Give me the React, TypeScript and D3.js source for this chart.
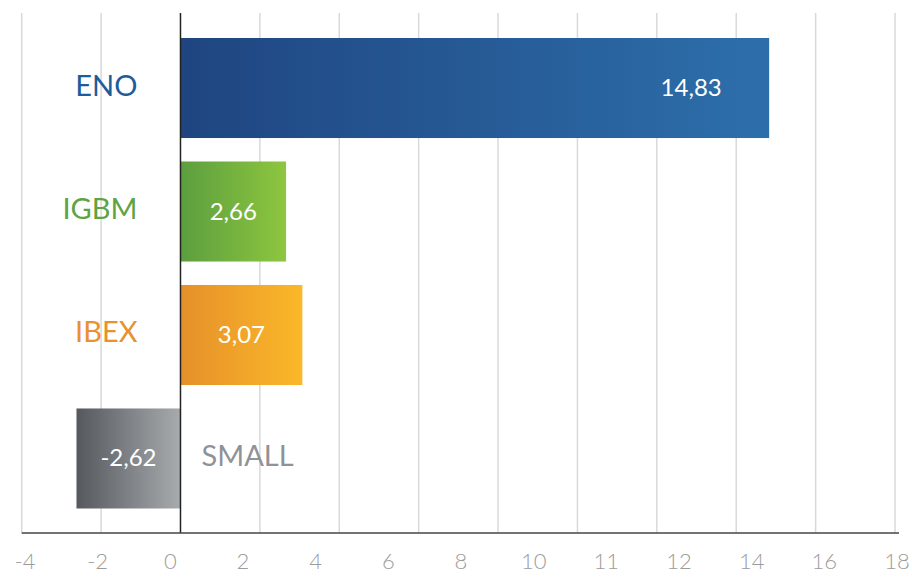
import { useEffect, useRef } from 'react'
import * as d3 from 'd3'

const categories = ['ENO', 'IGBM', 'IBEX', 'SMALL']
const values = [14.83, 2.66, 3.07, -2.62]
const tickLabels = ['-4', '-2', '0', '2', '4', '6', '8', '10', '11', '12', '14', '16', '18']
const gridValues = [-4, -2, 0, 2, 4, 6, 8, 10, 12, 14, 16, 18]

const palette: Record<string, { text: string; from: string; to: string }> = {
  ENO: { text: '#1b5d9c', from: '#1f4580', to: '#2d6fab' },
  IGBM: { text: '#5fa343', from: '#5c9e3e', to: '#8dc63f' },
  IBEX: { text: '#e8912e', from: '#e5902a', to: '#fbb829' },
  SMALL: { text: '#8f9297', from: '#55585d', to: '#a7abae' },
}

const FONT = 'Lato, "Open Sans", sans-serif'

export default function App() {
  const svgRef = useRef<SVGSVGElement>(null)

  useEffect(() => {
    document.body.style.margin = '0'
    if (!svgRef.current) return
    const svg = d3.select(svgRef.current)
    svg.selectAll('*').remove()

    const width = 912
    const height = 578
    const top = 13
    const axisY = 533

    svg.attr('width', width).attr('height', height)

    const x = d3.scaleLinear().domain([-4, 18]).range([21.7, 895])
    const y = d3.scaleBand<string>()
      .domain(categories)
      .range([38, 508.5])
      .paddingInner(0.19)
      .paddingOuter(0)

    const defs = svg.append('defs')
    categories.forEach((c, i) => {
      const grad = defs.append('linearGradient')
        .attr('id', `grad-${i}`)
        .attr('x1', '0%').attr('x2', '100%')
        .attr('y1', '0%').attr('y2', '0%')
      grad.append('stop').attr('offset', '0%').attr('stop-color', palette[c].from)
      grad.append('stop').attr('offset', '100%').attr('stop-color', palette[c].to)
    })

    // grid
    svg.append('g')
      .selectAll('line')
      .data(gridValues.filter(v => v !== 0))
      .join('line')
      .attr('x1', d => x(d))
      .attr('x2', d => x(d))
      .attr('y1', top)
      .attr('y2', axisY)
      .attr('stroke', '#d9d9d9')
      .attr('stroke-width', 1.5)

    // bars
    const bars = svg.append('g')
    categories.forEach((c, i) => {
      const v = values[i]
      const x0 = x(Math.min(0, v))
      const x1 = x(Math.max(0, v))
      const yy = y(c)!
      const bw = y.bandwidth()
      bars.append('rect')
        .attr('x', x0)
        .attr('y', yy)
        .attr('width', x1 - x0)
        .attr('height', bw)
        .attr('fill', `url(#grad-${i})`)

      const w = x1 - x0
      const labelX = w > 200 ? x1 - 78 : (x0 + x1) / 2
      bars.append('text')
        .attr('x', labelX)
        .attr('y', yy + bw / 2 + 8)
        .attr('text-anchor', 'middle')
        .attr('fill', '#ffffff')
        .style('font-family', FONT)
        .style('font-size', '24px')
        .text(v.toFixed(2).replace('.', ','))

      const neg = v < 0
      bars.append('text')
        .attr('x', neg ? x(0) + 21 : x(0) - 43)
        .attr('y', yy + bw / 2 + 7.5)
        .attr('text-anchor', neg ? 'start' : 'end')
        .attr('fill', palette[c].text)
        .style('font-family', FONT)
        .style('font-size', '29px')
        .text(c)
    })

    // zero line
    svg.append('line')
      .attr('x1', x(0))
      .attr('x2', x(0))
      .attr('y1', top)
      .attr('y2', axisY)
      .attr('stroke', '#222222')
      .attr('stroke-width', 1.5)

    // axis line
    svg.append('line')
      .attr('x1', x(-4))
      .attr('x2', 899)
      .attr('y1', axisY)
      .attr('y2', axisY)
      .attr('stroke', '#444444')
      .attr('stroke-width', 1.5)

    // tick labels
    const labelScale = d3.scalePoint<string>()
      .domain(tickLabels)
      .range([25, 897])

    svg.append('g')
      .selectAll('text')
      .data(tickLabels)
      .join('text')
      .attr('x', d => labelScale(d)!)
      .attr('y', 569)
      .attr('text-anchor', 'middle')
      .attr('fill', '#9c9c9c')
      .style('font-family', FONT)
      .style('font-weight', 300)
      .style('font-size', '22px')
      .text(d => d)
  }, [])

  return (
    <div>
      <svg ref={svgRef} style={{ display: 'block' }}></svg>
    </div>
  )
}
